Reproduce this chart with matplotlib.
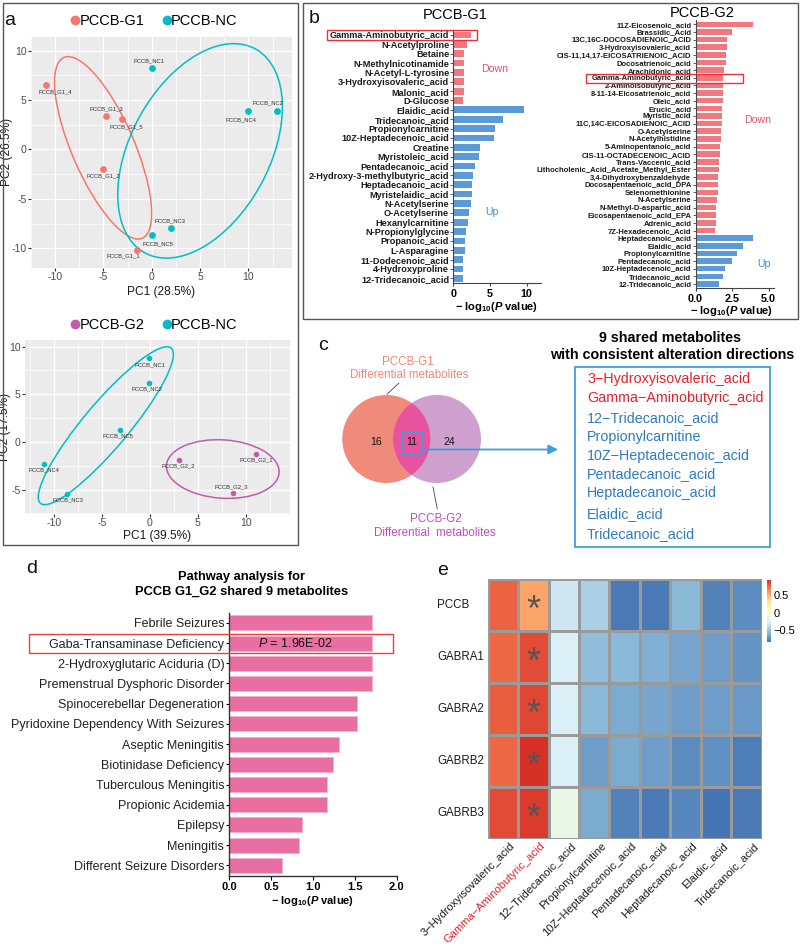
import numpy as np
import matplotlib
matplotlib.use('Agg')
import matplotlib.pyplot as plt
from matplotlib.patches import Ellipse, Circle, Rectangle, FancyArrowPatch
from matplotlib.colors import LinearSegmentedColormap
from matplotlib.lines import Line2D
import matplotlib.transforms as mtransforms

plt.rcParams['font.family'] = ['Liberation Sans', 'DejaVu Sans']
plt.rcParams['axes.unicode_minus'] = False
plt.rcParams['mathtext.fontset'] = 'custom'
plt.rcParams['mathtext.rm'] = 'Liberation Sans'
plt.rcParams['mathtext.bf'] = 'Liberation Sans:bold'
plt.rcParams['mathtext.it'] = 'Liberation Sans:italic'
try:
    plt.rcParams['mathtext.bfit'] = 'Liberation Sans:italic:bold'
    HAS_BFIT = True
except Exception:
    HAS_BFIT = False

# ---------------- DATA ----------------
# Panel a (top): PCA PCCB-G1 vs PCCB-NC
pca1_g1_names = ['PCCB_G1_1', 'PCCB_G1_2', 'PCCB_G1_3', 'PCCB_G1_4', 'PCCB_G1_5']
pca1_g1_x = [-1.5, -5.0, -4.7, -10.9, -3.1]
pca1_g1_y = [-10.2, -2.0, 3.4, 6.5, 3.1]
pca1_nc_names = ['PCCB_NC1', 'PCCB_NC2', 'PCCB_NC3', 'PCCB_NC4', 'PCCB_NC5']
pca1_nc_x = [0.0, 12.9, 2.0, 10.0, 0.05]
pca1_nc_y = [8.2, 3.85, -8.0, 3.9, -8.7]
# Panel a (bottom): PCA PCCB-G2 vs PCCB-NC
pca2_g2_names = ['PCCB_G2_1', 'PCCB_G2_2', 'PCCB_G2_3']
pca2_g2_x = [11.1, 3.0, 8.7]
pca2_g2_y = [-1.3, -1.9, -5.35]
pca2_nc_names = ['PCCB_NC1', 'PCCB_NC2', 'PCCB_NC3', 'PCCB_NC4', 'PCCB_NC5']
pca2_nc_x = [-0.1, -0.1, -8.6, -11.0, -3.1]
pca2_nc_y = [8.8, 6.2, -5.45, -2.35, 1.3]

# Panel b: differential metabolites (-log10 P)
g1_down_names = ['Gamma-Aminobutyric_acid', 'N-Acetylproline', 'Betaine', 'N-Methylnicotinamide',
                 'N-Acetyl-L-tyrosine', '3-Hydroxyisovaleric_acid', 'Malonic_acid', 'D-Glucose']
g1_down_vals = [2.47, 1.91, 1.49, 1.49, 1.40, 1.40, 1.40, 1.26]
g1_up_names = ['Elaidic_acid', 'Tridecanoic_acid', 'Propionylcarnitine', '10Z-Heptadecenoic_acid',
               'Creatine', 'Myristoleic_acid', 'Pentadecanoic_acid', '2-Hydroxy-3-methylbutyric_acid',
               'Heptadecanoic_acid', 'Myristelaidic_acid', 'N-Acetylserine', 'O-Acetylserine',
               'Hexanylcarnitine', 'N-Propionylglycine', 'Propanoic_acid', 'L-Asparagine',
               '11-Dodecenoic_acid', '4-Hydroxyproline', '12-Tridecanoic_acid']
g1_up_vals = [9.6, 6.83, 5.72, 5.49, 3.63, 3.49, 2.98, 2.65, 2.51, 2.51, 2.37, 2.19,
              2.0, 1.72, 1.63, 1.58, 1.35, 1.35, 1.35]

g2_down_names = ['11Z-Eicosenoic_acid', 'Brassidic_Acid', '13C,16C-DOCOSADIENOIC_ACID',
                 '3-Hydroxyisovaleric_acid', 'CIS-11,14,17-EICOSATRIENOIC_ACID', 'Docosatrienoic_acid',
                 'Arachidonic_acid', 'Gamma-Aminobutyric_acid', '2-Aminoisobutyric_acid',
                 '8-11-14-Eicosatrienoic_acid', 'Oleic_acid', 'Erucic_acid', 'Myristic_acid',
                 '11C,14C-EICOSADIENOIC_ACID', 'O-Acetylserine', 'N-Acetylhistidine',
                 '5-Aminopentanoic_acid', 'CIS-11-OCTADECENOIC_ACID', 'Trans-Vaccenic_acid',
                 'Lithocholenic_Acid_Acetate_Methyl_Ester', '3,4-Dihydroxybenzaldehyde',
                 'Docosapentaenoic_acid_DPA', 'Selenomethionine', 'N-Acetylserine',
                 'N-Methyl-D-aspartic_acid', 'Eicosapentaenoic_acid_EPA', 'Adrenic_acid',
                 '7Z-Hexadecenoic_Acid']
g2_down_vals = [3.94, 2.48, 2.14, 2.14, 2.09, 2.07, 1.96, 1.89, 1.89, 1.89, 1.85, 1.82, 1.82, 1.80,
                1.73, 1.73, 1.67, 1.67, 1.60, 1.60, 1.55, 1.51, 1.51, 1.46, 1.42, 1.40, 1.40, 1.35]
g2_up_names = ['Heptadecanoic_acid', 'Elaidic_acid', 'Propionylcarnitine', 'Pentadecanoic_acid',
               '10Z-Heptadecenoic_acid', 'Tridecanoic_acid', '12-Tridecanoic_acid']
g2_up_vals = [3.92, 3.27, 2.84, 2.52, 2.03, 1.91, 1.62]

# Panel c: Venn counts and shared metabolites
venn_only_g1 = 16
venn_shared = 11
venn_only_g2 = 24
shared_names = ['3\u2212Hydroxyisovaleric_acid', 'Gamma\u2212Aminobutyric_acid', '12\u2212Tridecanoic_acid',
                'Propionylcarnitine', '10Z\u2212Heptadecenoic_acid', 'Pentadecanoic_acid',
                'Heptadecanoic_acid', 'Elaidic_acid', 'Tridecanoic_acid']
shared_dirs = ['down', 'down', 'up', 'up', 'up', 'up', 'up', 'up', 'up']

# Panel d: pathway analysis
path_names = ['Febrile Seizures', 'Gaba-Transaminase Deficiency', '2-Hydroxyglutaric Aciduria (D)',
              'Premenstrual Dysphoric Disorder', 'Spinocerebellar Degeneration',
              'Pyridoxine Dependency With Seizures', 'Aseptic Meningitis', 'Biotinidase Deficiency',
              'Tuberculous Meningitis', 'Propionic Acidemia', 'Epilepsy', 'Meningitis',
              'Different Seizure Disorders']
path_vals = [1.70, 1.708, 1.70, 1.70, 1.53, 1.53, 1.31, 1.24, 1.17, 1.17, 0.87, 0.84, 0.63]
path_note = '= 1.96E-02'

# Panel e: correlation heatmap
heat_rows = ['PCCB', 'GABRA1', 'GABRA2', 'GABRB2', 'GABRB3']
heat_cols = ['3\u2212Hydroxyisovaleric_acid', 'Gamma\u2212Aminobutyric_acid', '12\u2212Tridecanoic_acid',
             'Propionylcarnitine', '10Z\u2212Heptadecenoic_acid', 'Pentadecanoic_acid',
             'Heptadecanoic_acid', 'Elaidic_acid', 'Tridecanoic_acid']
heat_vals = [
    [0.77, 0.55, -0.32, -0.44, -0.82, -0.82, -0.56, -0.78, -0.75],
    [0.74, 0.84, -0.27, -0.55, -0.56, -0.60, -0.64, -0.68, -0.70],
    [0.78, 0.85, -0.26, -0.56, -0.61, -0.63, -0.68, -0.68, -0.69],
    [0.75, 0.93, -0.26, -0.68, -0.62, -0.68, -0.75, -0.73, -0.80],
    [0.83, 0.88, -0.15, -0.61, -0.78, -0.82, -0.76, -0.84, -0.82],
]
heat_sig_col = 1

# ---------------- FIGURE ----------------
W, H = 800, 947
fig = plt.figure(figsize=(W / 100, H / 100), dpi=100)


def add_ax(l, t, r, b, **kw):
    return fig.add_axes([l / W, 1 - b / H, (r - l) / W, (b - t) / H], **kw)


def ft(x, y, s, **kw):
    kw.setdefault('ha', 'center')
    kw.setdefault('va', 'center')
    return fig.text(x / W, 1 - y / H, s, **kw)


C_G1 = '#F8766D'
C_NC = '#00BFC4'
C_G2 = '#C45BAA'
PX = 0.72  # points per pixel


def conf_ellipse(ax, x, y, color, k=1.41):
    x = np.asarray(x, float)
    y = np.asarray(y, float)
    cov = np.cov(x, y)
    vals, vecs = np.linalg.eigh(cov)
    order = vals.argsort()[::-1]
    vals, vecs = vals[order], vecs[:, order]
    angle = np.degrees(np.arctan2(vecs[1, 0], vecs[0, 0]))
    w, h = 2 * k * np.sqrt(vals)
    ax.add_patch(Ellipse((x.mean(), y.mean()), w, h, angle=angle, fill=False,
                         ec=color, lw=1.1, zorder=2))


def style_pca(ax, xlim, ylim, yticks, yminor):
    ax.set_facecolor('#EBEBEB')
    ax.set_xlim(xlim)
    ax.set_ylim(ylim)
    ax.set_xticks([-10, -5, 0, 5, 10])
    ax.set_xticks([-12.5, -7.5, -2.5, 2.5, 7.5, 12.5], minor=True)
    ax.set_yticks(yticks)
    ax.set_yticks(yminor, minor=True)
    ax.grid(which='major', color='white', lw=1.0)
    ax.grid(which='minor', color='white', lw=0.5)
    ax.set_axisbelow(True)
    for s in ax.spines.values():
        s.set_visible(False)
    ax.tick_params(which='major', length=2, color='#333333', labelsize=7.6,
                   labelcolor='#4D4D4D', pad=1)
    ax.tick_params(which='minor', length=0)


def label_points(ax, names, xs, ys, offs):
    for n, x, y, (dx, dy) in zip(names, xs, ys, offs):
        ax.annotate(n, (x, y), xytext=(dx * PX, -dy * PX), textcoords='offset points',
                    ha='center', va='center', fontsize=4.2, color='#333333')


# ---- Panel a top
ax1 = add_ax(31, 36.7, 292, 268)
style_pca(ax1, (-12.1, 14.5), (-12.0, 11.4), [-10, -5, 0, 5, 10], [-7.5, -2.5, 2.5, 7.5])
conf_ellipse(ax1, pca1_g1_x, pca1_g1_y, C_G1)
conf_ellipse(ax1, pca1_nc_x, pca1_nc_y, C_NC)
ax1.scatter(pca1_g1_x, pca1_g1_y, s=24, color=C_G1, zorder=3, lw=0)
ax1.scatter(pca1_nc_x, pca1_nc_y, s=24, color=C_NC, zorder=3, lw=0)
label_points(ax1, pca1_g1_names, pca1_g1_x, pca1_g1_y,
             [(-14, 6), (0, 6.5), (0, -7.4), (9, 7), (4, 8)])
label_points(ax1, pca1_nc_names, pca1_nc_x, pca1_nc_y,
             [(-3, -8), (-9, -9), (-1, -8), (-8, 9), (6, 8)])
ax1.set_xlabel('PC1 (28.5%)', fontsize=8.6, color='#1A1A1A')
ax1.set_ylabel('PC2 (26.5%)', fontsize=8.6, color='#1A1A1A')
ax1.xaxis.set_label_coords(0.5, -(286 - 268) / (268 - 36.7))
ax1.yaxis.set_label_coords(-(31 - 13) / (292 - 31), 0.5)
ax1.legend(handles=[Line2D([], [], marker='o', ls='', color=C_G1, ms=6),
                    Line2D([], [], marker='o', ls='', color=C_NC, ms=6)],
           labels=['PCCB-G1', 'PCCB-NC'], loc='center', ncol=2, frameon=False,
           bbox_to_anchor=(152 / W, 1 - 20.7 / H), bbox_transform=fig.transFigure,
           fontsize=10.5, handletextpad=-0.3, columnspacing=0.9, handlelength=1.2,
           borderpad=0)

# ---- Panel a bottom
ax2 = add_ax(25, 340, 290, 514.3)
style_pca(ax2, (-13.0, 14.6), (-7.6, 10.7), [-5, 0, 5, 10], [-7.5, -2.5, 2.5, 7.5])
conf_ellipse(ax2, pca2_g2_x, pca2_g2_y, C_G2)
conf_ellipse(ax2, pca2_nc_x, pca2_nc_y, C_NC)
ax2.scatter(pca2_g2_x, pca2_g2_y, s=16, color=C_G2, zorder=3, lw=0)
ax2.scatter(pca2_nc_x, pca2_nc_y, s=16, color=C_NC, zorder=3, lw=0)
label_points(ax2, pca2_g2_names, pca2_g2_x, pca2_g2_y, [(0, 6), (0, 6), (-2, -6)])
label_points(ax2, pca2_nc_names, pca2_nc_x, pca2_nc_y,
             [(1, 6.3), (-2, 5.5), (1, 6), (0, 6), (-2, 6)])
ax2.set_xlabel('PC1 (39.5%)', fontsize=8.6, color='#1A1A1A')
ax2.set_ylabel('PC2 (17.5%)', fontsize=8.6, color='#1A1A1A')
ax2.xaxis.set_label_coords(0.5, -(530 - 514.3) / (514.3 - 340))
ax2.yaxis.set_label_coords(-(25 - 11) / (290 - 25), 0.5)
ax2.legend(handles=[Line2D([], [], marker='o', ls='', color=C_G2, ms=6),
                    Line2D([], [], marker='o', ls='', color=C_NC, ms=6)],
           labels=['PCCB-G2', 'PCCB-NC'], loc='center', ncol=2, frameon=False,
           bbox_to_anchor=(152 / W, 1 - 325 / H), bbox_transform=fig.transFigure,
           fontsize=10.5, handletextpad=-0.3, columnspacing=0.9, handlelength=1.2,
           borderpad=0)

# ---- Panel b
C_DOWN = '#F0787E'
C_UP = '#5B9AD8'


def bar_panel(ax, down_names, down_vals, up_names, up_vals, xlim, xticks, xticklabels, fs):
    names = down_names + up_names
    vals = down_vals + up_vals
    cols = [C_DOWN] * len(down_vals) + [C_UP] * len(up_vals)
    y = np.arange(len(names))
    ax.barh(y, vals, height=0.72, color=cols, edgecolor='none')
    ax.set_ylim(len(names) - 0.5, -0.5)
    ax.set_yticks(y)
    ax.set_yticklabels(names, fontsize=fs, fontweight='bold', color='#1A1A1A')
    ax.set_xlim(xlim)
    ax.set_xticks(xticks)
    ax.set_xticklabels(xticklabels, fontsize=7.8, fontweight='bold')
    for s in ['top', 'right']:
        ax.spines[s].set_visible(False)
    for s in ['left', 'bottom']:
        ax.spines[s].set_color('#444444')
        ax.spines[s].set_linewidth(0.8)
    ax.tick_params(axis='y', length=2, pad=1, width=0.6, color='#444444')
    ax.tick_params(axis='x', length=2.5, pad=2, width=0.8, color='#444444')
    ax.patch.set_alpha(0)


axb1 = add_ax(453.3, 30.3, 541.4, 283.0)
bar_panel(axb1, g1_down_names, g1_down_vals, g1_up_names, g1_up_vals,
          (0, 12), [0, 5, 10], ['0', '5', '10'], 6.6)
axb2 = add_ax(695.5, 20.5, 774, 287.8)
bar_panel(axb2, g2_down_names, g2_down_vals, g2_up_names, g2_up_vals,
          (0, 5.37), [0, 2.5, 5.0], ['0.0', '2.5', '5.0'], 5.5)

if HAS_BFIT:
    xlab = r'$\mathbf{-\ log_{10}(}\mathbfit{P}\mathbf{\ value)}$'
else:
    xlab = r'$\mathbf{-\ log_{10}(P\ value)}$'
ft(496.7, 307, xlab, fontsize=8)
ft(731.7, 311, xlab, fontsize=8)
ft(455, 15, 'PCCB-G1', fontsize=10.5)
ft(701.7, 12.7, 'PCCB-G2', fontsize=10.5)
ft(494.7, 69, 'Down', fontsize=7.6, color='#E8506A')
ft(491.7, 212, 'Up', fontsize=7.6, color='#3C8FD8')
ft(757.7, 120, 'Down', fontsize=7.6, color='#E8506A')
ft(764, 264.3, 'Up', fontsize=7.6, color='#3C8FD8')

# ---- Panel d
axd = add_ax(229, 612.7, 396.7, 875.5)
yd = np.arange(len(path_names))
axd.barh(yd, path_vals, height=0.74, color='#E96FA2', edgecolor='#F5B0CC', lw=0.6)
axd.set_ylim(len(path_names) - 0.5, -0.5)
axd.set_yticks(yd)
axd.set_yticklabels(path_names, fontsize=9, color='#222222')
axd.set_xlim(0, 2.0)
axd.set_xticks([0, 0.5, 1.0, 1.5, 2.0])
axd.set_xticklabels(['0.0', '0.5', '1.0', '1.5', '2.0'], fontsize=8, fontweight='bold')
for s in ['top', 'right']:
    axd.spines[s].set_visible(False)
for s in ['left', 'bottom']:
    axd.spines[s].set_color('#333333')
    axd.spines[s].set_linewidth(1.0)
axd.tick_params(axis='y', length=2.5, pad=1, width=0.8)
axd.tick_params(axis='x', length=3, pad=2, width=0.8)
axd.patch.set_alpha(0)
gi = path_names.index('Gaba-Transaminase Deficiency')
axd.text(path_vals[gi] / 2 - 0.06, gi, r'$\mathit{P}$ ' + path_note, ha='center', va='center',
         fontsize=9, color='#111111')
ft(241.5, 577, 'Pathway analysis for', fontsize=9.3, fontweight='bold')
ft(242, 592, 'PCCB G1_G2 shared 9 metabolites', fontsize=9.3, fontweight='bold')
ft(313, 901, xlab, fontsize=8)

# ---- Panel e
pheat = ['#4575B4', '#91BFDB', '#E0F3F8', '#FFFFBF', '#FEE090', '#FC8D59', '#D73027']
cmap = LinearSegmentedColormap.from_list('pheat', pheat, N=100)
hv = np.array(heat_vals)
axe = add_ax(487.7, 579.3, 761.7, 839.3)
mesh = axe.pcolormesh(np.arange(len(heat_cols) + 1), np.arange(len(heat_rows) + 1), hv,
                      cmap=cmap, vmin=hv.min(), vmax=hv.max(), edgecolors='#9A9A9A', linewidth=0.8)
axe.set_xlim(0, len(heat_cols))
axe.set_ylim(len(heat_rows), 0)
axe.set_xticks([])
axe.set_yticks([])
for s in axe.spines.values():
    s.set_visible(False)
tr = mtransforms.blended_transform_factory(axe.transAxes, axe.transData)
for i, r in enumerate(heat_rows):
    axe.text(-0.185, i + 0.5, r, transform=tr, ha='left', va='center', fontsize=8.3, color='#1A1A1A')
    axe.text(heat_sig_col + 0.5, i + 0.62, '*', ha='center', va='center', fontsize=26,
             color='#555555')
for j, c in enumerate(heat_cols):
    axe.text(j + 0.72, len(heat_rows) + 0.03, c, rotation=45, ha='right', va='top',
             rotation_mode='anchor', fontsize=8.0,
             color='#E8202A' if j == heat_sig_col else '#1A1A1A', clip_on=False)
cax = add_ax(766.7, 580, 770.5, 642.3)
cb = fig.colorbar(mesh, cax=cax, ticks=[-0.5, 0, 0.5])
cb.outline.set_visible(False)
cax.set_yticklabels(['\u22120.5', '0', '0.5'])
cax.tick_params(length=0, pad=2, labelsize=8)

# ---- Overlay: frames, Venn, boxes, letters
axo = fig.add_axes([0, 0, 1, 1], zorder=10)
axo.set_xlim(0, W)
axo.set_ylim(H, 0)
axo.axis('off')
axo.add_patch(Rectangle((2.5, 2.5), 295.5, 542.5, fill=False, ec='#555555', lw=1.0))
axo.add_patch(Rectangle((303, 2.5), 495, 316.5, fill=False, ec='#555555', lw=1.0))
# highlight boxes
axo.add_patch(Rectangle((327.3, 30), 149.4, 10, fill=False, ec='#E8323A', lw=1.0))
axo.add_patch(Rectangle((586, 74), 157.3, 8.7, fill=False, ec='#E8323A', lw=1.0))
axo.add_patch(Rectangle((29, 634.3), 364, 18.4, fill=False, ec='#E84040', lw=1.0))

# Venn
c1 = Circle((386.3, 439), 44, fc='#F08A7A', ec='none')
c2 = Circle((437, 439), 44, fc='#CFA0CD', ec='none')
axo.add_patch(c1)
axo.add_patch(c2)
c3 = Circle((437, 439), 44, fc='#E8529E', ec='none')
axo.add_patch(c3)
c3.set_clip_path(c1)
axo.text(376, 442.3, str(venn_only_g1), ha='center', va='center', fontsize=7.5, color='#111')
axo.text(411.7, 442.3, str(venn_shared), ha='center', va='center', fontsize=7.5, color='#111')
axo.text(449.3, 442.3, str(venn_only_g2), ha='center', va='center', fontsize=7.5, color='#111')
axo.add_patch(Rectangle((402, 432), 21, 23, fill=False, ec='#3AA0DC', lw=1.2))
axo.add_patch(FancyArrowPatch((423, 449.5), (558, 449.5), arrowstyle='-|>', mutation_scale=14,
                              color='#3AA0DC', lw=1.3, shrinkA=0, shrinkB=0))
axo.plot([399, 387.3], [383, 394], color='#444444', lw=0.6)
axo.plot([433, 437.3], [487, 509], color='#444444', lw=0.6)
axo.text(408, 361.7, 'PCCB-G1', ha='center', va='center', fontsize=8.4, color='#F08878')
axo.text(409, 375, 'Differential metabolites', ha='center', va='center', fontsize=8.4, color='#F08878')
axo.text(436, 519.3, 'PCCB-G2', ha='center', va='center', fontsize=8.4, color='#C050B8')
axo.text(434.7, 532.7, 'Differential  metabolites', ha='center', va='center', fontsize=8.4,
         color='#C050B8')

# shared list box
axo.text(670, 338, '9 shared metabolites', ha='center', va='center', fontsize=10.3, fontweight='bold')
axo.text(672, 355, 'with consistent alteration directions', ha='center', va='center', fontsize=10.3,
         fontweight='bold')
axo.add_patch(Rectangle((575, 367), 195, 180, fill=False, ec='#3AA0DC', lw=1.3))
list_y = [379.3, 398.3, 417.7, 436.7, 456, 474.3, 493.3, 514.3, 534.3]
for yy, n, d in zip(list_y, shared_names, shared_dirs):
    axo.text(587, yy, n, ha='left', va='center', fontsize=10.3,
             color='#E8202A' if d == 'down' else '#2E7BC4')

# panel letters
for (x, y, s) in [(10, 20, 'a'), (314, 18, 'b'), (323, 345, 'c'), (31.7, 568, 'd'), (443, 570, 'e')]:
    axo.text(x, y, s, ha='center', va='center', fontsize=14, color='#111111')

fig.savefig('out.png', dpi=100)
